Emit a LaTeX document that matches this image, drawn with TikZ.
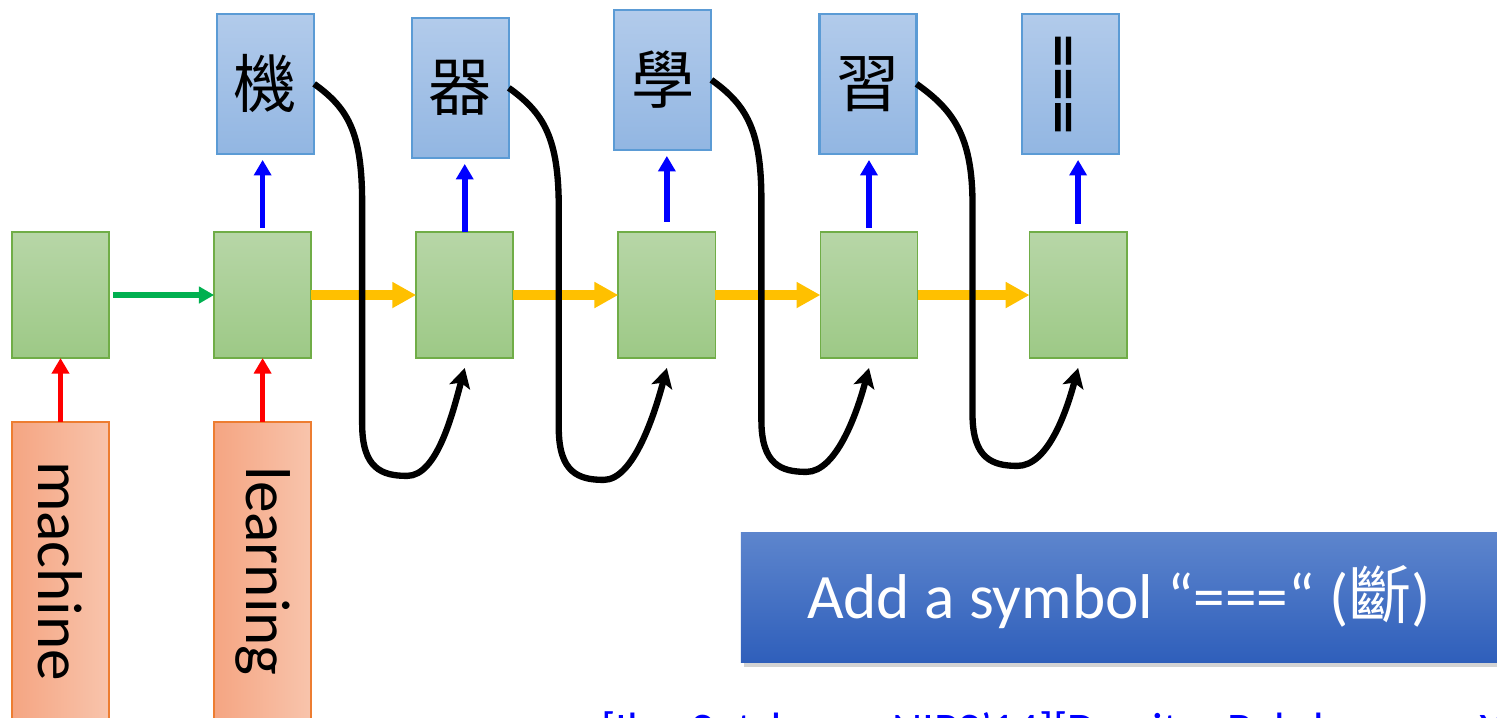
\documentclass[tikz,border=0pt]{standalone}
\usepackage{fontspec}
\setmainfont{Carlito}
\newfontfamily\cjk{Noto Sans CJK TC}
\newfontfamily\heavy[FakeBold=1.6]{Carlito}
\usetikzlibrary{arrows.meta,positioning,shadows}

\definecolor{celltop}{RGB}{183,214,167}
\definecolor{cellbot}{RGB}{157,201,134}
\definecolor{cellline}{RGB}{112,173,71}
\definecolor{outtop}{RGB}{178,203,235}
\definecolor{outbot}{RGB}{146,182,226}
\definecolor{outline}{RGB}{91,155,213}
\definecolor{inleft}{RGB}{245,165,130}
\definecolor{inright}{RGB}{248,196,172}
\definecolor{inline}{RGB}{237,125,49}
\definecolor{bantop}{RGB}{93,133,205}
\definecolor{banbot}{RGB}{47,95,187}
\definecolor{gold}{RGB}{255,192,0}
\definecolor{leaf}{RGB}{0,176,80}

\begin{document}
\begin{tikzpicture}[x=0.01cm,y=0.01cm,node distance=1.05cm,font=\fontsize{18}{21}\selectfont,
  every node/.style={outer sep=0pt},
  cell/.style={draw=cellline,line width=0.5pt,top color=celltop,bottom color=cellbot,
    minimum width=0.97cm,minimum height=1.26cm,inner sep=0pt},
  outbox/.style={draw=outline,line width=0.6pt,top color=outtop,bottom color=outbot,
    minimum width=0.97cm,minimum height=1.40cm,inner sep=0pt,font=\cjk\fontsize{18}{21}\selectfont},
  inbox/.style={draw=inline,line width=0.5pt,left color=inleft,right color=inright,
    minimum width=0.97cm,minimum height=2.98cm,inner sep=0pt},
  banner/.style={top color=bantop,bottom color=banbot,text=white,
    minimum width=7.56cm,minimum height=1.29cm,inner sep=0pt,
    drop shadow={shadow xshift=0.3mm,shadow yshift=-0.5mm,opacity=0.35}},
  outarr/.style={-{Triangle[length=4.4pt,width=4.8pt]},line width=1.6pt,blue},
  inarr/.style={-{Triangle[length=4.4pt,width=4.8pt]},line width=1.6pt,red},
  firstarr/.style={-{Triangle[length=4.3pt,width=4.6pt]},line width=1.6pt,leaf},
  statearr/.style={-{Triangle[length=6.8pt,width=7pt]},line width=2.6pt,gold},
  backarr/.style={-{Stealth[length=5.5pt,width=6pt,inset=1.2pt]},line width=1.8pt}]
  \useasboundingbox (0,0) rectangle (1497,-717);
  \clip (0,0) rectangle (1497,-717);
  % encoder / decoder cells
  \node[cell] (g1) at (60.5,-295) {};
  \node[cell,right=of g1] (g2) {};
  \node[cell,right=of g2] (g3) {};
  \node[cell,right=of g3] (g4) {};
  \node[cell,right=of g4] (g5) {};
  \node[cell,right=1.12cm of g5] (g6) {};
  % input words
  \node[inbox,below=0.64cm of g1] (x1) {\rotatebox{-90}{machine}};
  \node[inbox,below=0.64cm of g2] (x2) {\rotatebox{-90}{learning}};
  % output characters
  \node[outbox,above=0.78cm of g2,xshift=0.3mm] (w1) {機};
  \node[outbox,above=0.74cm of g3,xshift=-0.45mm] (w2) {器};
  \node[outbox,above=0.82cm of g4,xshift=-0.4mm] (w3) {學};
  \node[outbox,above=0.78cm of g5,xshift=-0.1mm] (w4) {習};
  \node[outbox,above=0.78cm of g6,xshift=-0.8mm,font=\heavy\fontsize{19}{22}\selectfont] (w5) {\rotatebox{90}{===}};
  \draw[inarr] (x1) -- (g1); \draw[inarr] (x2) -- (g2);
  \draw[firstarr] ([xshift=0.4mm]g1.east) -- (g2.west);
  \draw[statearr] (g2) -- (g3); \draw[statearr] (g3) -- (g4);
  \draw[statearr] (g4) -- (g5); \draw[statearr] (g5) -- (g6);
  \draw[outarr,shorten >=0.6mm] ([yshift=0.4mm]g2.north) -- (g2.north |- w1.south);
  \draw[outarr,shorten >=0.6mm] (g3.north) -- (g3.north |- w2.south);
  \draw[outarr,shorten >=0.6mm] ([yshift=1mm]g4.north) -- (g4.north |- w3.south);
  \draw[outarr,shorten >=0.6mm] ([yshift=0.4mm]g5.north) -- (g5.north |- w4.south);
  \draw[outarr,shorten >=0.6mm] ([yshift=0.8mm]g6.north) -- (g6.north |- w5.south);
  % feed each output back in
  \draw[backarr] (w1.east) .. controls +(35,-25) and +(0,70) .. ++(48,-120) -- ++(0,-220)
    .. controls +(0,-45) and +(-25,0) .. ++(45,-52) .. controls +(30,0) and +(-12,-45) .. ([yshift=-1mm]g3.south);
  \draw[backarr] (w2.east) .. controls +(35,-25) and +(0,70) .. ++(50,-120) -- ++(0,-220)
    .. controls +(0,-45) and +(-25,0) .. ++(45,-52) .. controls +(30,0) and +(-12,-45) .. ([yshift=-1mm]g4.south);
  \draw[backarr] (w3.east) .. controls +(35,-25) and +(0,70) .. ++(50,-120) -- ++(0,-220)
    .. controls +(0,-45) and +(-25,0) .. ++(45,-52) .. controls +(30,0) and +(-12,-45) .. ([yshift=-1mm]g5.south);
  \draw[backarr] (w4.east) .. controls +(35,-25) and +(0,70) .. ++(56,-120) -- ++(0,-210)
    .. controls +(0,-45) and +(-25,0) .. ++(45,-52) .. controls +(30,0) and +(-12,-45) .. ([yshift=-1mm]g6.south);
  \node[banner] (note) at (1119,-597.5) {Add a symbol “===“ ({\cjk 斷})};
  \node[anchor=base west,inner sep=0pt,text=blue,font=\fontsize{13.3}{16}\selectfont] (cite)
    at (601,-745) {[Ilya Sutskever, NIPS’14][Dzmitry Bahdanau, arXiv’15]};
\end{tikzpicture}
\end{document}
